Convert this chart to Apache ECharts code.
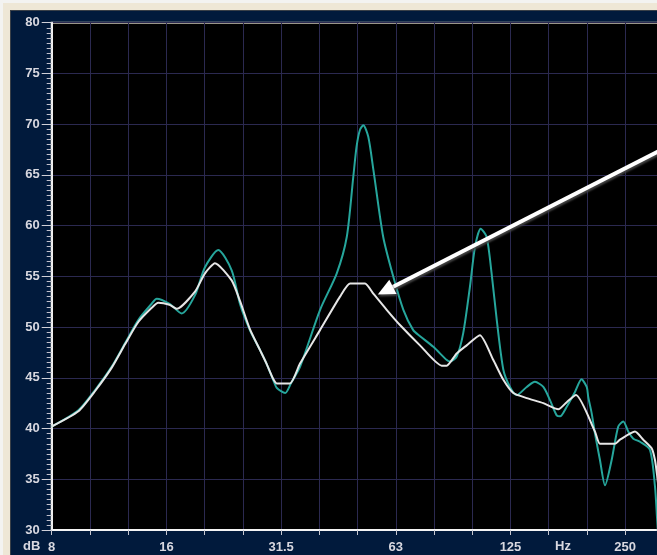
<!DOCTYPE html>
<html><head><meta charset="utf-8">
<script src="https://cdn.jsdelivr.net/npm/echarts@6/dist/echarts.min.js"></script>
<style>
html,body{margin:0;padding:0;width:657px;height:555px;overflow:hidden;background:#f3f3f1;}
#frame{position:absolute;left:3px;top:3px;width:760px;height:600px;background:#eee7d6;}
#edge{position:absolute;left:10px;top:10px;width:760px;height:600px;background:#3a4048;}
#chart{position:absolute;left:11px;top:11px;width:700px;height:544px;}
</style></head><body>
<div id="frame"></div><div id="edge"></div><div id="chart"></div>
<script>
// ---- data (frequency in Hz, level in dB) ----
const tealFreq = [8, 9.4, 10.4, 11.5, 12.46, 13.5, 14.64, 15.09, 16.3, 17.55, 19.02, 20.2, 21.89, 23.74, 25.0, 26.5, 28.2, 29.3, 30.5, 31.2, 32.8, 34.0, 35.9, 40.5, 44.8, 47.6, 49.5, 50.5, 51.5, 52.6, 54.2, 55.9, 59.3, 63.0, 67.0, 71.1, 74.1, 80.3, 87.1, 88.8, 92.5, 96.2, 100.2, 103.3, 106.9, 110.8, 114.2, 117.8, 122.6, 127.6, 132.9, 141.2, 148.4, 156.1, 162.5, 169.2, 172.7, 179.8, 189, 196.6, 202.9, 204.8, 209.1, 213.3, 219.8, 226.6, 235.9, 245.5, 253.1, 260.8, 268.9, 279.9, 297.4, 306.5, 310.2, 318];
const tealDb = [40.2, 41.8, 43.8, 46.1, 48.4, 50.7, 52.3, 52.8, 52.3, 51.35, 53.15, 55.9, 57.6, 55.6, 52.2, 49.7, 47.7, 46.4, 44.8, 44.0, 43.5, 44.5, 46.1, 51.7, 55.3, 58.9, 64.8, 67.8, 69.4, 69.9, 68.75, 65.5, 58.9, 55.0, 51.7, 49.7, 49.1, 48.05, 46.75, 46.6, 47.1, 49.4, 54.0, 57.9, 59.7, 58.9, 55.3, 50.7, 45.8, 44.1, 43.3, 44.1, 44.6, 44.1, 42.8, 41.3, 41.2, 42.15, 43.6, 44.85, 44.1, 43.1, 41.5, 39.5, 36.9, 34.4, 36.9, 40.2, 40.7, 39.7, 39.0, 38.7, 37.9, 34.3, 31.3, 25];
const whiteFreq = [8, 9.4, 10.4, 11.5, 12.46, 13.5, 14.64, 15.23, 16.3, 17.03, 19.02, 20.2, 21.46, 23.74, 25.0, 26.5, 28.2, 29.3, 30.5, 31.16, 33.76, 35.87, 40.48, 45.68, 48.53, 53.14, 55.86, 60.57, 65.64, 74.07, 84.47, 87.06, 92.48, 98.22, 106.4, 115.4, 122.6, 130.2, 141.2, 156.1, 170.9, 179.8, 190.2, 213.3, 219.8, 240.7, 248.1, 271.6, 285.6, 300.4, 306.5, 310.2, 318];
const whiteDb = [40.2, 41.7, 43.7, 46.0, 48.3, 50.5, 51.9, 52.4, 52.2, 51.8, 53.5, 55.3, 56.3, 54.6, 52.5, 49.8, 47.7, 46.4, 44.9, 44.45, 44.45, 46.4, 49.7, 53.0, 54.3, 54.3, 53.3, 51.7, 50.2, 48.2, 46.2, 46.2, 47.4, 48.2, 49.2, 46.75, 44.8, 43.5, 43.0, 42.5, 41.9, 42.6, 43.3, 39.7, 38.5, 38.5, 38.9, 39.7, 38.9, 38.05, 36.9, 35.5, 32];
const xTickLabels = ['8', '16', '31.5', '63', '125', '250', '500'];
const yMin = 30, yMax = 80, yStep = 5;
const fMin = 8, fMax = 330;
const arrowTip = [57.4, 53.2];

function zip(a, b) { return a.map((v, i) => [v, b[i]]); }
const octMax = Math.log2(fMax / fMin);

const chart = echarts.init(document.getElementById('chart'));
const labelFont = { color: '#d8d8e0', fontWeight: 'bold', fontSize: 13, fontFamily: 'Liberation Sans, Arial, sans-serif' };
const gridColor = '#2b2950';
chart.setOption({
  animation: false,
  backgroundColor: '#011a3c',
  grid: { left: 40.7, top: 11.7, right: 43.8, bottom: 25, show: true, backgroundColor: '#000000', borderColor: '#cbc7b8', borderWidth: 2 },
  xAxis: [
    { type: 'log', logBase: 2, min: fMin, max: fMax, show: false },
    { type: 'value', min: 0, max: octMax, interval: 1 / 3, position: 'bottom',
      axisLine: { show: true, lineStyle: { color: '#f4f4f4', width: 2 } },
      axisTick: { show: true, length: 5, lineStyle: { color: '#c8c8d0' } },
      splitLine: { show: true, lineStyle: { color: gridColor, width: 1 } },
      axisLabel: Object.assign({}, labelFont, { margin: 11, interval: 0, showMaxLabel: false,
        formatter: function (v) { const n = Math.round(v * 3); return (n % 3 === 0 && Math.abs(v * 3 - n) < 1e-6) ? (xTickLabels[n / 3] || '') : ''; } })
    }
  ],
  yAxis: {
    type: 'value', min: yMin, max: yMax, interval: yStep,
    axisLine: { show: true, lineStyle: { color: '#f0f0f0', width: 2 } },
    axisTick: { show: true, length: 10, lineStyle: { color: '#d0d0d8' } },
    minorTick: { show: true, splitNumber: 10, length: 5, lineStyle: { color: '#c0c0cc' } },
    splitLine: { show: true, lineStyle: { color: gridColor, width: 1 } },
    axisLabel: Object.assign({}, labelFont, { margin: 12 })
  },
  series: [
    { type: 'line', xAxisIndex: 0, data: zip(tealFreq, tealDb), showSymbol: false, smooth: 0.25, clip: true,
      lineStyle: { color: '#26a69c', width: 2 }, z: 3 },
    { type: 'line', xAxisIndex: 0, data: zip(whiteFreq, whiteDb), showSymbol: false, smooth: 0.2, clip: true,
      lineStyle: { color: '#e6e6e6', width: 2 }, z: 4 }
  ]
});

// annotation arrow + axis unit texts
const tip = chart.convertToPixel({ xAxisIndex: 0, yAxisIndex: 0 }, arrowTip);
const dir = [0.8905, -0.4543];
const perp = [-dir[1], dir[0]];
const headLen = 17, headHalf = 8;
const base = [tip[0] + dir[0] * headLen, tip[1] + dir[1] * headLen];
const tail = [tip[0] + dir[0] * 450, tip[1] + dir[1] * 450];
const shadow = { shadowColor: 'rgba(70,70,70,0.95)', shadowBlur: 2, shadowOffsetX: 1, shadowOffsetY: 2 };
chart.setOption({
  graphic: [
    { type: 'polyline', z: 100, shape: { points: [[base[0] - dir[0] * 2, base[1] - dir[1] * 2], tail] },
      style: Object.assign({ stroke: '#ffffff', lineWidth: 4, fill: null }, shadow) },
    { type: 'polygon', z: 101, shape: { points: [tip, [base[0] + perp[0] * headHalf, base[1] + perp[1] * headHalf], [base[0] - perp[0] * headHalf, base[1] - perp[1] * headHalf]] },
      style: Object.assign({ fill: '#ffffff' }, shadow) },
    { type: 'text', left: 12, top: 529, style: { text: 'dB', fill: '#d8d8e0', font: 'bold 13px "Liberation Sans", Arial, sans-serif' } },
    { type: 'text', left: 544, top: 529, style: { text: 'Hz', fill: '#d8d8e0', font: 'bold 13px "Liberation Sans", Arial, sans-serif' } }
  ]
});
</script>
</body></html>
